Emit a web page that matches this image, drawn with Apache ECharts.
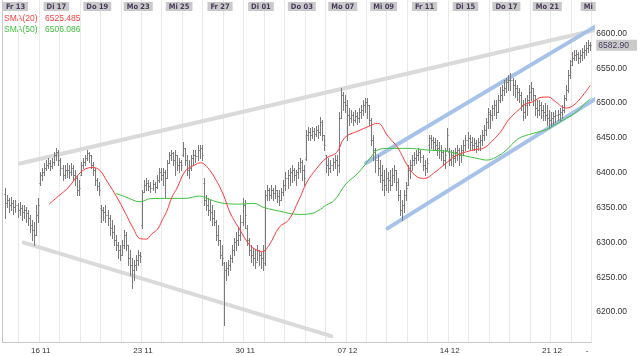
<!DOCTYPE html>
<html>
<head>
<meta charset="utf-8">
<script src="https://cdn.jsdelivr.net/npm/echarts@6/dist/echarts.min.js"></script>
<style>html,body{margin:0;padding:0;background:#fff}#c{width:640px;height:356px}</style>
</head>
<body>
<div id="c"></div>
<script>
// ---------- DATA ----------
// Hourly OHLC bars, [open, close, low, high]; first bar sits in time slot 1 (10 slots per trading day)
const firstSlot = 1;
const bars = [
[6370,6356,6335,6378],[6356,6361,6351,6368],[6361,6354,6344,6364],[6354,6356,6346,6365],[6356,6351,6341,6361],
[6351,6354,6344,6361],[6354,6346,6336,6356],[6346,6349,6339,6358],[6349,6344,6332,6354],[6344,6346,6335,6354],
[6346,6342,6329,6351],[6342,6335,6325,6346],[6335,6325,6315,6339],[6325,6318,6303,6332],[6318,6311,6296,6329],
[6311,6339,6311,6354],[6339,6354,6329,6364],
// Mo 16
[6385,6397,6382,6401],[6397,6401,6390,6407],[6401,6407,6397,6414],[6407,6411,6404,6418],[6411,6414,6407,6421],
[6414,6410,6404,6418],[6410,6415,6407,6421],[6415,6425,6411,6430],[6425,6430,6418,6436],[6430,6418,6411,6433],
// Di 17
[6418,6407,6397,6421],[6407,6397,6390,6411],[6397,6404,6392,6411],[6404,6404,6394,6414],[6404,6401,6392,6411],
[6401,6407,6397,6414],[6407,6397,6390,6411],[6397,6392,6382,6404],[6392,6375,6368,6397],[6375,6378,6368,6390],
// Mi 18
[6397,6411,6397,6415],[6411,6415,6407,6421],[6415,6421,6411,6425],[6421,6428,6418,6433],[6428,6425,6415,6430],
[6425,6411,6407,6425],[6411,6404,6397,6415],[6404,6390,6382,6407],[6390,6381,6375,6392],[6381,6375,6368,6387],
// Do 19
[6350,6346,6329,6354],[6346,6344,6332,6351],[6344,6339,6329,6354],[6339,6335,6325,6346],[6335,6321,6311,6339],
[6321,6315,6306,6332],[6315,6303,6296,6325],[6303,6296,6289,6311],[6296,6289,6277,6300],[6289,6282,6275,6296],
// Fr 20
[6282,6296,6282,6303],[6296,6311,6292,6318],[6311,6296,6289,6315],[6296,6277,6267,6296],[6277,6267,6253,6289],
[6267,6260,6234,6277],[6260,6267,6246,6275],[6267,6275,6260,6282],[6275,6282,6267,6289],[6282,6280,6272,6286],
// Mo 23
[6325,6372,6321,6375],[6372,6382,6372,6390],[6382,6385,6375,6392],[6385,6381,6375,6390],[6381,6378,6372,6387],
[6378,6384,6375,6390],[6384,6379,6372,6387],[6379,6390,6378,6397],[6390,6401,6387,6407],[6401,6397,6390,6407],
// Di 24
[6397,6401,6382,6407],[6401,6392,6365,6404],[6392,6414,6392,6418],[6414,6425,6414,6430],[6425,6428,6418,6433],
[6428,6418,6411,6430],[6418,6425,6397,6433],[6425,6411,6404,6425],[6411,6415,6401,6421],[6415,6411,6404,6418],
// Mi 25
[6425,6436,6424,6444],[6436,6418,6411,6436],[6418,6404,6397,6425],[6404,6407,6392,6418],[6407,6421,6404,6425],
[6421,6425,6411,6433],[6425,6424,6415,6433],[6424,6433,6418,6440],[6433,6436,6421,6440],[6436,6425,6418,6440],
// Do 26
[6385,6361,6354,6392],[6361,6354,6346,6368],[6354,6346,6339,6364],[6346,6344,6332,6361],[6344,6335,6325,6354],
[6335,6329,6325,6346],[6329,6311,6303,6332],[6311,6303,6296,6325],[6303,6282,6277,6303],[6282,6277,6267,6296],
// Fr 27
[6270,6260,6181,6272],[6260,6263,6246,6272],[6263,6267,6253,6275],[6267,6277,6260,6282],[6277,6289,6272,6296],
[6289,6300,6282,6306],[6300,6303,6289,6315],[6303,6311,6296,6321],[6311,6329,6303,6339],[6329,6354,6325,6364],
// Mo 30
[6354,6339,6321,6361],[6320,6303,6296,6325],[6303,6289,6282,6306],[6289,6282,6272,6296],[6282,6277,6267,6292],
[6277,6272,6263,6289],[6272,6289,6275,6296],[6289,6282,6267,6289],[6282,6277,6263,6286],[6277,6289,6260,6296],
// Di 01
[6270,6368,6267,6375],[6368,6375,6361,6382],[6375,6368,6361,6378],[6368,6375,6364,6382],[6375,6371,6361,6378],
[6371,6375,6364,6382],[6375,6367,6358,6375],[6367,6361,6354,6375],[6361,6372,6361,6378],[6372,6382,6368,6390],
// Mi 02
[6382,6392,6375,6401],[6392,6397,6378,6404],[6397,6401,6382,6407],[6401,6404,6387,6411],[6404,6397,6390,6407],
[6397,6401,6382,6404],[6401,6407,6392,6415],[6407,6415,6401,6421],[6415,6404,6390,6418],[6404,6392,6382,6411],
// Do 03
[6420,6454,6418,6461],[6454,6458,6447,6466],[6458,6454,6447,6464],[6454,6460,6450,6466],[6460,6456,6447,6464],
[6456,6461,6453,6467],[6461,6458,6450,6469],[6458,6473,6454,6480],[6473,6454,6447,6476],[6454,6440,6433,6454],
// Fr 04
[6425,6411,6401,6425],[6411,6407,6397,6421],[6407,6411,6401,6418],[6411,6415,6404,6421],[6415,6418,6407,6425],
[6418,6411,6397,6425],[6411,6479,6401,6487],[6479,6512,6479,6522],[6512,6502,6490,6516],[6502,6497,6487,6512],
// Mo 07
[6497,6483,6447,6504],[6483,6479,6469,6493],[6479,6483,6473,6490],[6483,6476,6469,6487],[6476,6481,6473,6490],
[6481,6479,6470,6487],[6479,6487,6473,6493],[6487,6490,6479,6497],[6490,6497,6483,6504],[6497,6502,6487,6507],
// Di 08
[6502,6497,6479,6507],[6497,6476,6469,6497],[6476,6447,6440,6479],[6447,6433,6418,6454],[6433,6418,6401,6436],
[6418,6407,6397,6425],[6407,6397,6387,6418],[6397,6390,6375,6411],[6390,6382,6368,6404],[6382,6392,6375,6407],
// Mi 09
[6392,6390,6372,6401],[6390,6382,6375,6404],[6382,6397,6382,6407],[6397,6404,6387,6411],[6404,6387,6375,6404],
[6387,6368,6361,6392],[6368,6346,6339,6375],[6346,6354,6332,6361],[6354,6368,6344,6375],[6368,6378,6361,6387],
// Do 10
[6382,6404,6382,6411],[6404,6411,6392,6418],[6411,6418,6404,6425],[6418,6421,6411,6430],[6421,6425,6414,6433],
[6425,6430,6418,6436],[6430,6423,6415,6433],[6423,6411,6404,6425],[6411,6407,6397,6418],[6407,6414,6401,6421],
// Fr 11
[6440,6450,6430,6454],[6450,6447,6436,6454],[6447,6444,6433,6451],[6444,6440,6433,6450],[6440,6436,6425,6447],
[6436,6433,6421,6444],[6433,6430,6418,6440],[6430,6418,6411,6433],[6418,6425,6407,6436],[6433,6454,6433,6464],
// Mo 14
[6430,6418,6411,6436],[6418,6425,6411,6433],[6425,6421,6410,6433],[6421,6430,6415,6436],[6430,6433,6418,6440],
[6433,6425,6411,6436],[6425,6433,6415,6440],[6433,6440,6425,6447],[6440,6447,6433,6454],[6447,6450,6436,6458],
// Di 15
[6450,6444,6433,6454],[6444,6440,6433,6451],[6440,6443,6433,6450],[6443,6438,6430,6447],[6438,6444,6433,6450],
[6444,6447,6433,6454],[6447,6454,6440,6461],[6454,6461,6447,6469],[6461,6473,6454,6479],[6473,6487,6464,6493],
// Mi 16
[6485,6483,6464,6490],[6483,6493,6476,6497],[6493,6497,6483,6504],[6497,6487,6479,6504],[6487,6504,6487,6512],
[6504,6512,6502,6523],[6512,6519,6504,6526],[6519,6522,6512,6533],[6522,6530,6516,6536],[6530,6533,6519,6540],
// Do 17
[6533,6533,6519,6543],[6533,6526,6512,6536],[6526,6522,6509,6533],[6522,6516,6504,6526],[6516,6512,6502,6522],
[6512,6497,6490,6516],[6497,6487,6476,6504],[6487,6497,6479,6507],[6497,6504,6483,6512],[6504,6516,6497,6526],
// Fr 18
[6516,6522,6504,6530],[6522,6512,6497,6522],[6512,6493,6483,6512],[6493,6490,6480,6504],[6490,6497,6483,6504],
[6497,6490,6479,6502],[6490,6487,6476,6497],[6487,6483,6476,6500],[6483,6479,6469,6497],[6479,6476,6464,6490],
// Mo 21
[6476,6479,6467,6487],[6479,6481,6470,6487],[6481,6483,6473,6490],[6483,6484,6476,6490],[6484,6487,6476,6493],
[6487,6490,6479,6497],[6490,6507,6487,6512],[6507,6519,6504,6526],[6519,6540,6516,6548],[6540,6555,6536,6562],
// Di 22
[6560,6565,6555,6573],[6565,6569,6562,6576],[6569,6570,6562,6576],[6570,6565,6558,6573],[6565,6569,6559,6576],
[6569,6573,6562,6579],[6573,6576,6565,6583],[6576,6579,6569,6588],[6579,6583,6573,6591],[6583,6582.90,6576,6588]
];

// Moving averages: [time slot, value]
const sma20 = [
[22.5,6355],[27,6366.5],[32,6379.4],[38,6401],[43,6407.4],[46.5,6405.3],[51,6386.6],[55.5,6365.1],[59.5,6343.5],
[63.5,6320.5],[67,6305.4],[70,6304.7],[72.5,6311.9],[75.5,6319.1],[77.5,6330.6],[80,6344.9],[82.5,6365.1],[85,6378],
[89,6402.4],[93.5,6411],[96.5,6414.3],[99.5,6408.9],[103.5,6392.3],[107.5,6369.4],[111,6342.1],[115.5,6319.1],
[120.5,6296.1],[124,6288.9],[126.5,6286.5],[130,6296.1],[135,6322],[139.5,6332],[144.5,6360.7],[148.5,6386.6],
[153,6405.3],[158,6421.1],[163,6429],[167,6450.5],[173.5,6459.9],[178.5,6466.3],[183,6471],[188,6452.7],
[193,6435.5],[197.5,6411],[202.5,6393.8],[206,6391.9],[210.5,6399.5],[216,6412.5],[221,6424],[226.5,6430.1],
[231.5,6433.6],[235,6435.5],[240,6448.4],[243.5,6459.9],[247,6475.7],[252.5,6491.5],[255.5,6498.7],[259,6502],
[263,6508.3],[266.5,6508.7],[270,6502],[275,6492.9],[279,6497.2],[283.5,6511.6],[287,6525.485]
];
const sma50 = [
[55,6370.4],[60,6365.1],[67,6358.3],[72,6362.9],[81.5,6363.2],[89,6363.2],[96,6366.5],[101,6361.5],[108,6356],
[115.5,6355],[122.5,6356],[127.5,6350],[135,6344.9],[144.5,6340.2],[150.5,6341.3],[154,6345.6],[158,6353.6],
[162,6360.7],[167.5,6383.7],[172.5,6396.7],[176,6408.2],[179.5,6421.1],[183,6432.6],[189,6435],[197.5,6435],
[207.5,6432.6],[217,6430.7],[224,6425.4],[231.5,6420.7],[236.5,6418.2],[241,6422.5],[246,6432.6],[251.5,6448.4],
[255.5,6453.4],[260.5,6457.7],[265.5,6462.1],[270,6469.2],[275,6477.8],[280,6486.5],[284.5,6499.7],[287,6506.086]
];

// Trend lines drawn on the chart: [[time, price],[time, price]]
const trendUpperGrey = [[8.7,6413.3],[289.0,6604.2]];
const trendLowerGrey = [[10.6,6299.7],[160.9,6165.4]];
const channelUpper = [[177.9,6414.1],[291.4,6612.3]];
const channelLower = [[188.4,6320.1],[291.9,6509.6]];

// Axis labels
const dayLabels = ['Fr 13','Di 17','Do 19','Mo 23','Mi 25','Fr 27','Di 01','Do 03','Mo 07','Mi 09','Fr 11','Di 15','Do 17','Mo 21','Mi'];
const weekLabels = ['16 11','23 11','30 11','07 12','14 12','21 12'];
const priceTicks = [6200,6250,6300,6350,6400,6450,6500,6550,6600];
const lastPrice = 6582.90;
const slotsPerDay = 10, firstDaySlot = 8, totalSlots = 288;

// ---------- CHART ----------
const FONT = "'Liberation Sans', Arial, sans-serif";
const NARROW = "'DejaVu Sans Condensed', 'Liberation Sans', sans-serif";
const dayStarts = [];
for (let s = firstDaySlot; s <= totalSlots; s += slotsPerDay) dayStarts.push(s);
const topPos = dayLabels.map((t, i) => firstDaySlot + 2 * i * slotsPerDay - 1.5);
const topMap = {}; topPos.forEach((v, i) => topMap[v.toFixed(1)] = dayLabels[i]);
const botPos = weekLabels.map((t, i) => firstDaySlot + slotsPerDay + 5 * i * slotsPerDay + 0.8);
const botMap = {}; botPos.forEach((v, i) => botMap[v.toFixed(1)] = weekLabels[i]);
const dashPos = totalSlots - 2; botMap[dashPos.toFixed(1)] = '-';

const ohlcData = bars.map((b, i) => [firstSlot + i + 0.5, b[0], b[1], b[2], b[3]]);
const shift = d => d.map(p => [p[0] + 0.5, p[1]]);

function renderOhlc(params, api) {
  const x = api.value(0);
  const o = api.coord([x, api.value(1)]);
  const c = api.coord([x, api.value(2)]);
  const l = api.coord([x, api.value(3)]);
  const h = api.coord([x, api.value(4)]);
  const px = Math.round(o[0]) + 0.5;
  const st = { stroke: '#7a7a7a', lineWidth: 1 };
  const tk = { stroke: '#6a6a6a', lineWidth: 1 };
  return { type: 'group', children: [
    { type: 'line', shape: { x1: px, y1: Math.round(h[1]), x2: px, y2: Math.round(l[1]) + 1 }, style: st },
    { type: 'line', shape: { x1: px - 1, y1: Math.round(o[1]) + 0.5, x2: px, y2: Math.round(o[1]) + 0.5 }, style: tk },
    { type: 'line', shape: { x1: px, y1: Math.round(c[1]) + 0.5, x2: px + 1, y2: Math.round(c[1]) + 0.5 }, style: tk }
  ]};
}

const trend = (data, color) => ({
  type: 'line', data: data, symbol: 'none', clip: false, silent: true, z: 1,
  lineStyle: { color: color, width: 4, cap: 'round' }
});

const legendText = (x, y, text, color) => ({
  type: 'text', left: x, top: y,
  style: { text: text, fill: color, fontSize: 8.5, fontFamily: FONT }
});

const chart = echarts.init(document.getElementById('c'), null, { renderer: 'canvas' });
chart.setOption({
  animation: false,
  backgroundColor: '#ffffff',
  grid: { left: 0, right: 44, top: 0, bottom: 14 },
  xAxis: [
    { type: 'value', min: 0, max: totalSlots, position: 'bottom',
      axisLine: { show: true, lineStyle: { color: '#c8c8c8' } },
      axisTick: { show: false },
      splitLine: { show: false },
      axisLabel: { customValues: botPos.concat([dashPos]), color: '#333', fontSize: 8, fontFamily: FONT, margin: 5,
        formatter: v => botMap[Number(v).toFixed(1)] || '' } },
    { type: 'value', min: 0, max: totalSlots, position: 'top',
      axisLine: { show: false },
      axisTick: { show: false, customValues: dayStarts },
      splitLine: { show: true, lineStyle: { color: '#e9e9e9', width: 1 } },
      axisLabel: { customValues: topPos, inside: true, margin: 2, verticalAlign: 'top',
        color: '#4a3b5c', fontSize: 7.5, fontWeight: 'bold', fontFamily: NARROW,
        backgroundColor: '#c9c9c9', padding: [1, 3, 0, 3],
        formatter: v => topMap[Number(v).toFixed(1)] || '' } }
  ],
  yAxis: {
    type: 'value', position: 'right', min: 6157, max: 6648,
    axisLine: { show: true, lineStyle: { color: '#c8c8c8' } },
    axisTick: { show: false },
    splitLine: { show: false },
    axisLabel: { customValues: priceTicks.concat([lastPrice]), margin: 5, color: '#333', fontSize: 8.5, fontFamily: FONT,
      formatter: v => Math.abs(v - lastPrice) < 0.001 ? '{last|' + v.toFixed(2) + '}' : v.toFixed(2),
      rich: { last: { backgroundColor: '#c9c9c9', color: '#4a3b5c', fontSize: 8.5, fontFamily: FONT, padding: [1, 8, 1, 2] } } }
  },
  series: [
    trend(trendUpperGrey, '#dadada'),
    trend(trendLowerGrey, '#dadada'),
    trend(channelUpper, '#a6c2e8'),
    trend(channelLower, '#a6c2e8'),
    { type: 'line', name: 'SMA(50)', data: shift(sma50), smooth: 0.4, symbol: 'none', z: 3,
      lineStyle: { color: '#3cc13c', width: 1 } },
    { type: 'line', name: 'SMA(20)', data: shift(sma20), smooth: 0.4, symbol: 'none', z: 3,
      lineStyle: { color: '#ff3a3a', width: 1 } },
    { type: 'custom', name: 'OHLC', data: ohlcData, renderItem: renderOhlc, z: 2,
      encode: { x: 0, y: [1, 2, 3, 4] } }
  ],
  graphic: [
    legendText(4, 14, 'SMA(20)', '#ff4040'),
    legendText(45, 14, sma20[sma20.length - 1][1].toFixed(3), '#ff4040'),
    legendText(4, 25, 'SMA(50)', '#3cbf3c'),
    legendText(45, 25, sma50[sma50.length - 1][1].toFixed(3), '#3cbf3c')
  ]
});
</script>
</body>
</html>
